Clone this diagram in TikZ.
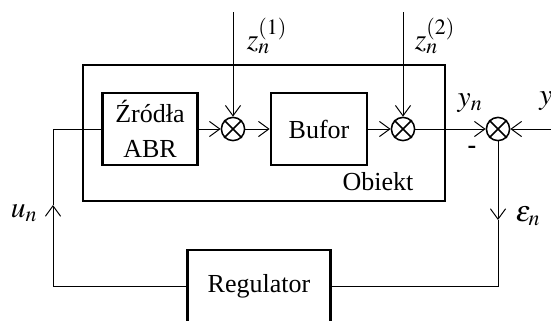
\documentclass[tikz,border=0pt]{standalone}
\usepackage[no-math]{fontspec}
\usepackage{mathptmx}
\setmainfont{Liberation Serif}
\usetikzlibrary{arrows.meta}

\begin{document}
\begin{tikzpicture}[
        x=0.25mm, y=-0.25mm,
        every node/.style={
            align=center,
            font=\fontsize{18.5}{25}\selectfont
        },
        etykieta/.style={
            font=\fontsize{21}{25}\selectfont,
            inner sep=1pt
        },
        blok/.style={
            draw,
            line width=1.9pt,
            minimum width=24mm,
            minimum height=18mm,
            inner sep=0pt
        },
        sumator/.style={
            draw,
            circle,
            line width=1.1pt,
            minimum size=5.8mm,
            inner sep=0pt
        },
        sygnal/.style={
            line width=0.7pt
        },
        strz/.style={
            sygnal,
            -{Straight Barb[length=2.6mm,width=3.8mm]}
        }
    ]
    \useasboundingbox (0,0) rectangle (551,320);
    % obiekt
    \node[blok, minimum width=90.5mm, minimum height=34mm] (obj) at (264,133) {};
    \node (objtxt) at (378,182) {Obiekt};
    % bloki wewnatrz
    \node[blok, minimum width=23.75mm] (src) at (150,129) {Źródła\\ABR};
    \node[sumator] (sumA) at (233,129) {};
    \node[blok] (buf) at (319,129) {Bufor};
    \node[sumator] (sumB) at (403,129) {};
    \node[sumator] (sumC) at (498,129) {};
    % regulator
    \node[blok, minimum width=35.75mm] (reg) at (259,286) {Regulator};
    % krzyzyki w sumatorach
    \foreach \s in {sumA,sumB,sumC}
        \draw[line width=1.1pt] (\s.north west) -- (\s.south east)
            (\s.north east) -- (\s.south west);
    % wejscia
    \coordinate (zA) at (233,12);
    \coordinate (zB) at (403,12);
    \coordinate (yin) at (551,129);
    \coordinate (uarr) at (53,205);
    \coordinate (earr) at (498,220);
    % tor glowny
    \draw[strz] (src) -- (sumA);
    \draw[strz] (sumA) -- (buf);
    \draw[strz] (buf) -- (sumB);
    \draw[strz] (sumB) -- (sumC);
    \draw[strz] (zA) -- (sumA);
    \draw[strz] (zB) -- (sumB);
    \draw[strz] (yin) -- (sumC);
    % sprzezenie zwrotne
    \draw[strz] (sumC) -- (earr);
    \draw[sygnal] (earr) |- (reg.east);
    \draw[strz] (reg.west) -| (uarr);
    \draw[sygnal] (uarr) |- (src.west);
    % etykiety
    \node[etykieta] (lzA) at (267,36) {$z_n^{(1)}$};
    \node[etykieta] (lzB) at (435,36) {$z_n^{(2)}$};
    \node[etykieta] (lyn) at (470,103) {$y_n$};
    \node[etykieta] (ly) at (546,101) {$y$};
    \node (lmin) at (472,150) {\textbf{-}};
    \node[etykieta] (leps) at (528,216) {$\varepsilon_n$};
    \node[etykieta] (lun) at (24,213) {$u_n$};
\end{tikzpicture}
\end{document}
